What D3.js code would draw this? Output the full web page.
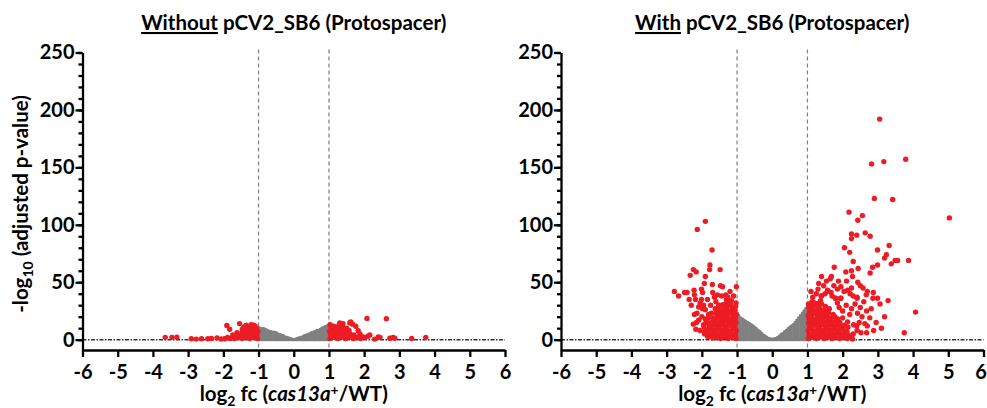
<!DOCTYPE html>
<html>
<head>
<meta charset="utf-8">
<script src="https://cdn.jsdelivr.net/npm/d3@7"></script>
<style>
  body { margin: 0; background: #fff; }
  text { font-family: Lato, "Open Sans", sans-serif; font-weight: 700; fill: #000; }
</style>
</head>
<body>
<svg id="chart" width="987" height="408"></svg>
<script>
// tick values
var xTicks = [-6, -5, -4, -3, -2, -1, 0, 1, 2, 3, 4, 5, 6]
var yTicks = [0, 50, 100, 150, 200, 250]
var yMinorTicks = [0, 10, 20, 30, 40, 50, 60, 70, 80, 90, 100, 110, 120, 130, 140, 150, 160, 170, 180, 190, 200, 210, 220, 230, 240, 250]
var foldCutoffs = [-1, 1]

// grey (not significant) cloud, upper edge per log2 fc bin
var leftGrey = [[-1,11.5],[-0.95,11],[-0.9,10.5],[-0.85,10.5],[-0.8,10],[-0.75,9],[-0.7,8.5],[-0.65,8],[-0.6,7.5],[-0.55,7.5],[-0.5,7],
  [-0.45,6],[-0.4,5.5],[-0.35,5],[-0.3,4.5],[-0.25,3.5],[-0.2,3],[-0.15,2.5],[-0.1,2],[-0.05,1.5],[0,1.2],[0.05,1.5],[0.1,2],
  [0.15,2.5],[0.2,3],[0.25,3.5],[0.3,4.5],[0.35,5],[0.4,5.5],[0.45,6],[0.5,7],[0.55,7.5],[0.6,8],[0.65,9],[0.7,9],[0.75,10],
  [0.8,11],[0.85,11.5],[0.9,12.5],[0.95,13],[1,13.5]]
var rightGrey = [[-1,24],[-0.95,22],[-0.9,20],[-0.85,19],[-0.8,18],[-0.75,17],[-0.7,16],[-0.65,15],[-0.6,14],[-0.55,13],[-0.5,12],
  [-0.45,10.5],[-0.4,9],[-0.35,8],[-0.3,6.5],[-0.25,5],[-0.2,4],[-0.15,3],[-0.1,2.2],[-0.05,1.6],[0,1.5],[0.05,1.6],[0.1,2.2],
  [0.15,3],[0.2,4],[0.25,5.5],[0.3,6.5],[0.35,8],[0.4,9],[0.45,10.5],[0.5,12],[0.55,13],[0.6,14],[0.65,16],[0.7,18],[0.75,20],
  [0.8,22],[0.85,24],[0.9,26],[0.95,28],[1,30]]

// significant genes, without pCV2_SB6
var leftRed = [
  [-3.65,2],[-3.46,2],[-3.32,2.2],[-2.91,0.8],[-2.77,0.5],[-2.62,0.8],[-2.44,0.8],[-2.34,1],[-2.18,1.5],[-2.06,0.6],[-1.96,0.8],
  [-1.9,12.3],[-1.82,9],[-1.73,4],[-1.61,6],[-1.54,14],[-1.46,9],[-1.35,12.6],[-1.28,10],[-1.14,12.6],[-1.88,2],[-1.8,1],
  [-1.03,1],[-1.05,4],[-1.02,7],[-1.06,10],[-1.14,2],[-1.16,5],[-1.13,8],[-1.17,11],[-1.25,1],[-1.27,4],[-1.24,7],[-1.28,10],
  [-1.36,2],[-1.38,5],[-1.35,8],[-1.47,1],[-1.49,4],[-1.46,7],[-1.58,2],[-1.6,5],[-1.68,1],[-1.21,13],[-1.42,11],[-1.1,7.5],
  [-1.08,2.5],[-1.2,3],[-1.32,5.5],[-1.2,9],[-1.43,2.5],[-1.53,3.5],[-1.1,12],
  [2.08,18.5],[2.63,18.2],[1.62,15.5],[1.59,14.6],[1.67,13.5],[1.76,11.7],[1.83,7.7],[1.88,5],[1.4,14],[1.29,13],[1.17,11],
  [1.5,6.8],[2.16,4],[2.4,2.4],[2.82,2],[3.35,1],[3.75,2],[2.3,0.5],[2.02,2],[2.11,3],[2.45,2],[2.73,1.2],[2.87,1.2],[1.31,14.6],[1.95,2.5],
  [1.03,1],[1.05,4],[1.02,7],[1.06,10],[1.03,13],[1.14,2],[1.16,5],[1.13,8],[1.17,11],[1.25,1],[1.27,4],[1.24,7],[1.28,10],
  [1.36,2],[1.38,5],[1.35,8],[1.39,11],[1.47,1],[1.49,4],[1.46,7],[1.5,10],[1.58,2],[1.6,5],[1.57,8],[1.69,1],[1.71,4],[1.8,2],[1.9,1],
  [1.09,2.5],[1.2,3.5],[1.31,6],[1.2,9],[1.42,3],[1.53,3.5],[1.1,12]
]

// significant genes, with pCV2_SB6
var rightRed = [
  // down-regulated, scattered
  [-1.9,103],[-2.13,96],[-1.71,78],[-1.77,65],[-2.24,61],[-2.16,59],[-2.33,56],[-1.78,61],[-1.48,61],[-1.9,55],[-1.93,49],[-1.7,48],
  [-1.47,47],[-1.41,46],[-1.02,46],[-2.01,44],[-2.78,42],[-2.49,41],[-2.42,41],[-2.66,38],[-2.22,43],[-2.21,39],[-1.98,41],[-2.36,35],
  [-2.18,35],[-2.01,35],[-1.69,41],[-1.64,37],[-1.84,35],[-1.56,39],[-1.44,38],[-1.32,39],[-1.26,37],[-1.16,34],[-1.98,27],[-1.9,26],
  [-2.21,22],[-2.09,17],[-2.15,15],[-2.17,9],[-1.94,11],[-1.92,7],[-1.84,3],[-1.81,22],[-2.24,13.5],[-2.14,23],[-2.09,28.5],[-1.85,8],
  [-2,20],[-1.95,30],[-2.05,8],[-1.88,15],[-2.3,30],[-2.05,32],[-1.75,30],[-1.6,33],[-1.3,35],[-1.1,38],[-1.2,42],[-1.5,30],
  // down-regulated, dense
  [-1.03,1],[-1.05,4.5],[-1.02,8],[-1.06,11.5],[-1.03,15],[-1.05,18.5],[-1.02,22],[-1.06,25.5],[-1.04,29],[-1.03,32],
  [-1.14,2],[-1.16,5.5],[-1.13,9],[-1.17,12.5],[-1.15,16],[-1.12,19.5],[-1.16,23],[-1.14,26.5],[-1.17,30],
  [-1.25,1],[-1.27,4],[-1.24,7.5],[-1.28,11],[-1.26,14.5],[-1.23,18],[-1.27,21.5],[-1.25,25],[-1.29,28.5],[-1.24,32],
  [-1.36,2.5],[-1.38,6],[-1.35,9.5],[-1.39,13],[-1.37,16.5],[-1.34,20],[-1.38,23.5],[-1.36,27],[-1.4,30.5],
  [-1.47,1],[-1.49,4.5],[-1.46,8],[-1.5,11.5],[-1.48,15],[-1.45,18.5],[-1.49,22],[-1.47,26],[-1.52,29.5],
  [-1.58,2],[-1.6,5.5],[-1.57,9],[-1.61,12.5],[-1.59,16],[-1.56,19.5],[-1.6,23],[-1.62,27],
  [-1.69,1.5],[-1.71,5],[-1.68,8.5],[-1.72,12],[-1.7,15.5],[-1.67,19],[-1.73,23],
  [-1.8,3],[-1.82,7],[-1.79,11],[-1.83,15],[-1.81,19],[-1.92,5],[-1.95,13],[-1.9,18],
  [-1.09,3],[-1.2,6.5],[-1.31,9],[-1.42,6],[-1.53,10],[-1.09,13],[-1.2,16],[-1.31,18.5],[-1.42,21],[-1.09,20.5],[-1.2,24.5],
  [-1.31,26],[-1.53,24.5],[-1.64,14],[-1.2,2.5],[-1.42,13.5],[-1.09,27],[-1.31,31.5],[-1.64,3.5],[-1.75,10],
  // up-regulated, scattered
  [3.05,192],[2.82,153],[3.17,155],[3.79,157],[2.9,123],[3.42,122],[5.03,106],[2.18,111],[2.56,108],[2.43,104],[2.25,92],[2.25,88],
  [2.4,91],[2.64,93],[2.78,90],[2.05,80],[2.2,76],[2.99,78],[3.32,82],[3.24,74],[3.19,71],[3.49,69],[3.56,69],[3.38,66],[3.87,69],
  [2.3,68],[2.99,65],[2.85,63],[2.44,62],[1.76,63],[2.78,58],[2.25,60],[2.09,59],[2.28,55],[1.68,55],[1.65,53],[1.54,51],[1.32,49],
  [1.88,51],[2.11,51],[2.43,50],[1.46,47],[1.57,43],[1.67,41],[2.04,42],[2.14,43],[2.21,40],[2.58,45],[2.87,41],[2.67,39],[2.41,37],
  [1.39,38],[1.79,36],[1.94,36],[2.99,36],[3.29,34],[3.06,31],[4.07,24],[3.19,20],[2.68,25],[2.81,27],[2.42,23],[2.77,19],[2.47,15],
  [2.63,14],[2.31,13],[2.88,8],[2.68,6],[3.75,6],[2.52,6],[2.41,8],[1.4,38],[1.8,36],[1.95,36],[2.86,36],[2.41,36],[2.14,15.5],
  [2.12,5],[2.3,5],[1.9,28],[2,25],[2.1,30],[2.2,22],[2.25,27],[2.35,31],[2.5,28],[2.55,20],[2,19],[2.15,11],[2.4,12],[1.85,32],
  [1.7,38],[1.6,42],[1.5,40],[1.25,40],[1.15,37],[1.3,44],[1.1,42],[2.6,33],[2.7,12],[2.95,15],[3.1,10],[2.25,45],[1.95,46],
  [1.85,44],[2.3,38],[2.5,47],[2.7,42],[1.75,47],[1.4,55],
  // up-regulated, dense
  [1.03,1],[1.05,4.5],[1.02,8],[1.06,11],[1.03,14.5],[1.05,18],[1.02,21],[1.06,24.5],[1.04,28],[1.03,31],
  [1.14,2],[1.16,5.5],[1.13,9],[1.17,12.5],[1.15,16],[1.12,19.5],[1.16,23],[1.14,26.5],[1.17,30],[1.13,33],
  [1.25,1],[1.27,4],[1.24,7.5],[1.28,11],[1.26,14],[1.23,17.5],[1.27,21],[1.25,24],[1.29,27.5],[1.24,31],
  [1.36,2.5],[1.38,6],[1.35,9.5],[1.39,13],[1.37,16.5],[1.34,20],[1.38,23.5],[1.36,27],[1.4,31],[1.37,34],
  [1.47,1],[1.49,4.5],[1.46,8],[1.5,11.5],[1.48,15],[1.45,18.5],[1.49,22],[1.47,25.5],[1.51,29],
  [1.58,2],[1.6,5.5],[1.57,9],[1.61,12.5],[1.59,16],[1.56,19.5],[1.6,23],[1.62,27],
  [1.69,1],[1.71,4.5],[1.68,8],[1.72,11.5],[1.7,15],[1.67,18.5],[1.73,22],
  [1.8,2],[1.82,5.5],[1.79,9],[1.83,12.5],[1.81,16],[1.78,20],
  [1.91,1],[1.93,4.5],[1.9,8],[1.94,11.5],[1.92,15],[2.02,2],[2.04,5.5],[2.01,9],[2.05,12.5],
  [2.13,1],[2.16,4],[2.12,7.5],[2.25,2],[2.28,0.5],
  [1.09,3],[1.2,6.5],[1.31,9],[1.42,6],[1.53,10],[1.09,13],[1.2,16],[1.31,18.5],[1.42,21],[1.09,20.5],[1.2,24.5],
  [1.31,26],[1.53,24.5],[1.64,14],[1.2,2.5],[1.42,13.5],[1.09,27],[1.31,31.5],[1.64,3.5],[1.75,10],[1.86,18],[1.2,32]
]

var svg = d3.select("#chart")

function drawPanel(opts) {
    var x = d3.scaleLinear().domain([-6, 6]).range([opts.left, opts.left + 422.5])
    var y = d3.scaleLinear().domain([-9, 250]).range([350, 52.5])
    var g = svg.append("g")

    // dotted zero line
    g.append("line")
        .attr("x1", x(-6)).attr("x2", x(6))
        .attr("y1", y(0)).attr("y2", y(0))
        .attr("stroke", "#333").attr("stroke-width", 1.5)
        .attr("stroke-dasharray", "4,1.5,1.5,1.5")

    // fold change cutoffs
    g.selectAll(".cut").data(foldCutoffs).enter().append("line")
        .attr("x1", d => x(d)).attr("x2", d => x(d))
        .attr("y1", y(250) - 3).attr("y2", y(-9))
        .attr("stroke", "#808080").attr("stroke-width", 1.2)
        .attr("stroke-dasharray", "4,3")

    // grey cloud
    var step = x(0.05) - x(0)
    g.selectAll(".grey").data(opts.grey).enter().append("rect")
        .attr("x", d => x(d[0]) - step / 2 - 0.3)
        .attr("width", step + 0.6)
        .attr("y", d => y(d[1]))
        .attr("height", d => y(0) + 1.5 - y(d[1]))
        .attr("fill", "#808080")
    g.selectAll(".greyDot").data(opts.grey).enter().append("circle")
        .attr("cx", d => x(d[0])).attr("cy", d => y(d[1]) + 1)
        .attr("r", 1.5).attr("fill", "#808080")

    // significant genes
    g.selectAll(".red").data(opts.red).enter().append("circle")
        .attr("cx", d => x(d[0])).attr("cy", d => y(d[1]))
        .attr("r", 2.7).attr("fill", "#ed1c24")

    // axes
    var xAxis = g.append("g").attr("transform", "translate(0,350)")
        .call(d3.axisBottom(x).tickValues(xTicks).tickSize(7).tickSizeOuter(0).tickPadding(8).tickFormat(d => String(d)))
    var yMinor = g.append("g").attr("transform", "translate(" + x(-6) + ",0)")
        .call(d3.axisLeft(y).tickValues(yMinorTicks).tickSize(4).tickSizeOuter(0).tickFormat(""))
    var yAxis = g.append("g").attr("transform", "translate(" + x(-6) + ",0)")
        .call(d3.axisLeft(y).tickValues(yTicks).tickSize(7).tickSizeOuter(0).tickPadding(1).tickFormat(d => String(d)))
    yMinor.select(".domain").remove()
    ;[xAxis, yAxis, yMinor].forEach(function (a) {
        a.selectAll("path, line").attr("stroke", "#000").attr("stroke-width", 2.3)
        a.selectAll("text").attr("font-size", 20).attr("font-family", null).attr("fill", "#000")
    })
    // keep the last label inside the page
    if (opts.nudgeLast) xAxis.selectAll(".tick text").filter(d => d === 6).attr("dx", -3)

    // x label
    var xl = g.append("text").attr("x", x(0)).attr("y", 401)
        .attr("text-anchor", "middle").attr("font-size", 20.5)
    xl.append("tspan").text("log")
    xl.append("tspan").attr("font-size", 14).attr("dy", 5).text("2")
    xl.append("tspan").attr("dy", -5).text(" fc (")
    xl.append("tspan").attr("font-style", "italic").text("cas13a")
    xl.append("tspan").attr("font-size", 14).attr("dy", -6).text("+")
    xl.append("tspan").attr("dy", 6).text("/WT)")

    // title
    var t = g.append("text").attr("x", x(0)).attr("y", 30)
        .attr("text-anchor", "middle").attr("font-size", 20.5)
    t.append("tspan").attr("text-decoration", "underline").text(opts.titleLead)
    t.append("tspan").text(" pCV2_SB6 (Protospacer)")
    return g
}

drawPanel({ left: 82.5, grey: leftGrey, red: leftRed, titleLead: "Without" })
drawPanel({ left: 561, grey: rightGrey, red: rightRed, titleLead: "With", nudgeLast: true })

// y label
var yl = svg.append("text")
    .attr("transform", "translate(28,204) rotate(-90)")
    .attr("text-anchor", "middle").attr("font-size", 20.5)
yl.append("tspan").text("-log")
yl.append("tspan").attr("font-size", 14).attr("dy", 5).text("10")
yl.append("tspan").attr("dy", -5).text(" (adjusted p-value)")
</script>
</body>
</html>
